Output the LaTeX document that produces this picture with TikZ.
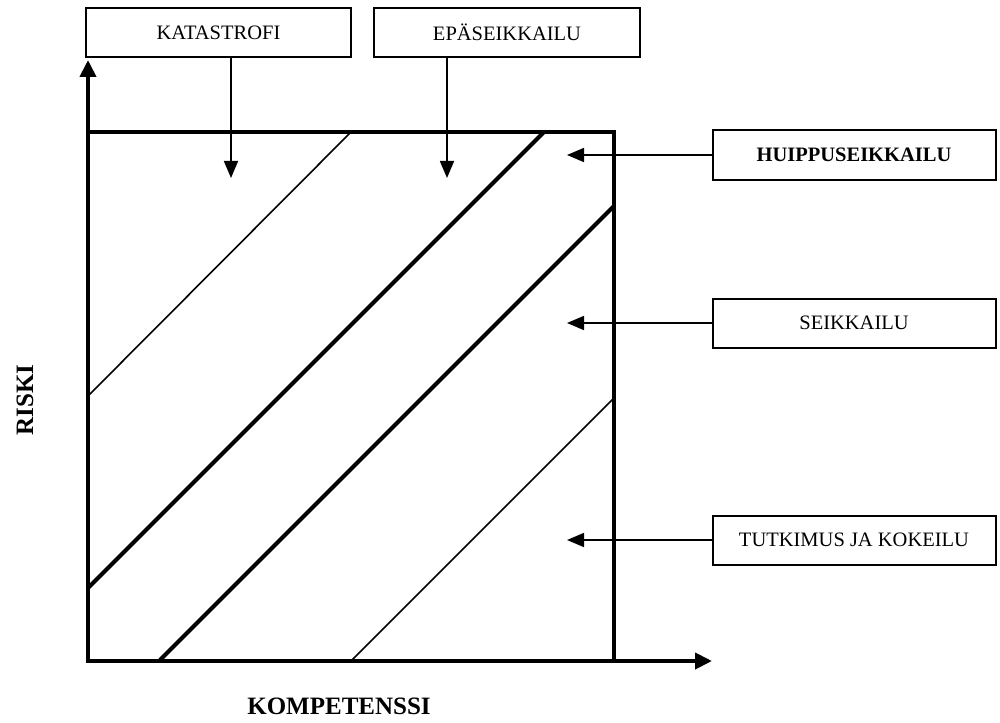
\documentclass[tikz,border=0pt]{standalone}
\usepackage{fontspec}
\setmainfont{Liberation Serif}
\usetikzlibrary{arrows.meta}
\tikzset{
  lbox/.style={draw=black, line width=2pt, inner sep=0pt, minimum height=49pt,
    font=\fontsize{20.5}{24}\selectfont},
  ptr/.style={line width=1.6pt, -{Triangle[length=17pt,width=14pt]}},
  axis/.style={line width=4pt, -{Triangle[length=17pt,width=16pt]}},
  thinline/.style={line width=1.6pt},
  thickline/.style={line width=4pt},
  axlabel/.style={font=\bfseries\fontsize{25}{30}\selectfont}
}
\begin{document}
\begin{tikzpicture}[x=1pt,y=-1pt]
\useasboundingbox (0,0) rectangle (1000,722);
% square corners
\coordinate (O) at (88,660);
\coordinate (TL) at (88,132);
\coordinate (TR) at (614,132);
\coordinate (BR) at (614,660);
% square
\draw[line width=3.5pt] (TL) -- (TR) -- (BR);
% diagonals
\draw[thinline] (88,396) -- (351,132);
\draw[thickline] (88,588) -- (544,132);
\draw[thickline] (160,660) -- (614,206);
\draw[thinline] (352,660) -- (614,398);
% axes
\coordinate (ytip) at (88,60);
\coordinate (xtip) at (712,661);
\draw[axis] (88,662) -- (ytip);
\draw[axis] (86,661) -- (xtip);
% top boxes
\node[lbox, minimum width=265pt] (kat) at (218.5,32.5) {KATASTROFI};
\node[lbox, minimum width=266pt] (epa) at (507,32.5) {EPÄSEIKKAILU};
\coordinate (katip) at (231,178);
\coordinate (epatip) at (447,178);
\draw[ptr] (kat.south -| katip) -- (katip);
\draw[ptr] (epa.south -| epatip) -- (epatip);
% right boxes
\node[lbox, minimum width=283pt, font=\bfseries\fontsize{20.5}{24}\selectfont] (hui) at (854,155) {HUIPPUSEIKKAILU};
\node[lbox, minimum width=283pt] (sei) at (854,323) {SEIKKAILU};
\node[lbox, minimum width=283pt] (tut) at (854,540) {TUTKIMUS JA KOKEILU};
\coordinate (huitip) at (567,155);
\coordinate (seitip) at (567,323);
\coordinate (tuttip) at (567,540);
\draw[ptr] (hui.west) -- (huitip);
\draw[ptr] (sei.west) -- (seitip);
\draw[ptr] (tut.west) -- (tuttip);
% axis labels
\node[axlabel] (komp) at (339,706) {KOMPETENSSI};
\node[axlabel, rotate=90] (riski) at (25,400) {RISKI};
\end{tikzpicture}
\end{document}
